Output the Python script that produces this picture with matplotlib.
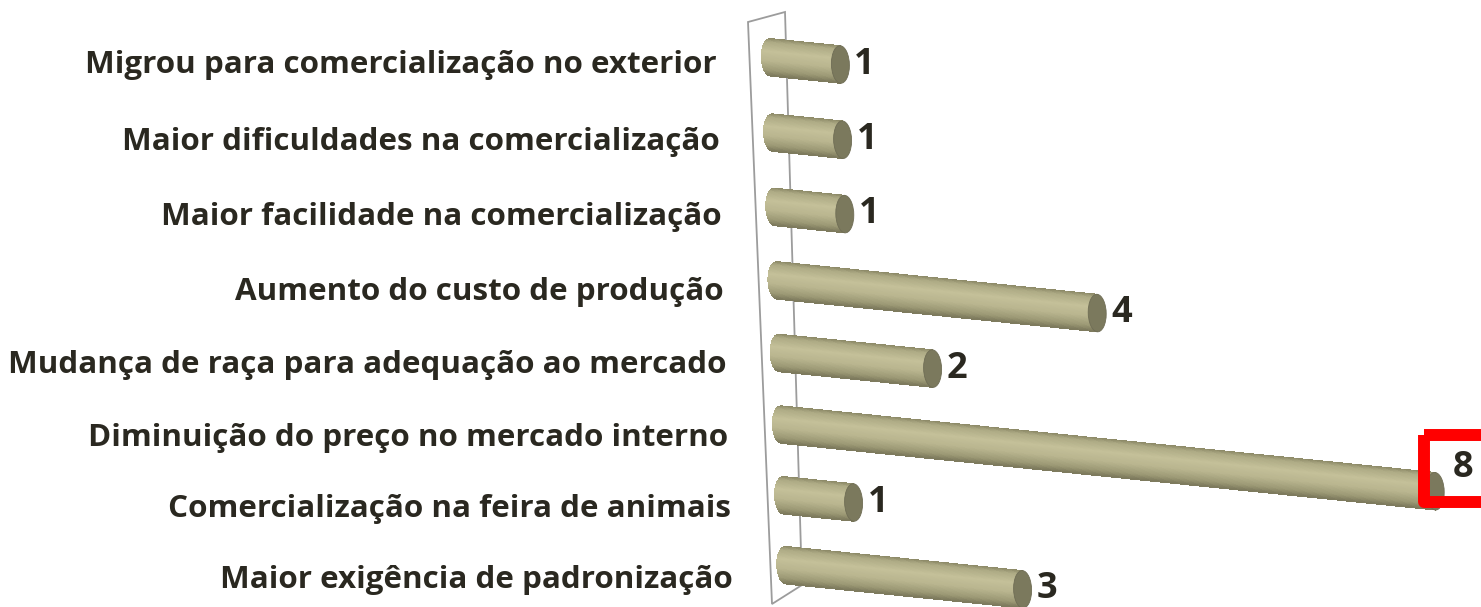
import numpy as np
import matplotlib
matplotlib.use("Agg")
import matplotlib.pyplot as plt
from matplotlib.patches import Polygon, Ellipse, Rectangle
from matplotlib.transforms import Affine2D
from matplotlib.colors import LinearSegmentedColormap

categories = [
    "Migrou para comercialização no exterior",
    "Maior dificuldades na comercialização",
    "Maior facilidade na comercialização",
    "Aumento do custo de produção",
    "Mudança de raça para adequação ao mercado",
    "Diminuição do preço no mercado interno",
    "Comercialização na feira de animais",
    "Maior exigência de padronização",
]
values = [1, 1, 1, 4, 2, 8, 1, 3]

W, H = 1481, 607
fig = plt.figure(figsize=(W / 100, H / 100), dpi=100)
ax = fig.add_axes([0, 0, 1, 1])
ax.set_xlim(0, W)
ax.set_ylim(H, 0)
ax.axis("off")

TEXT = "#2a2820"
FONT = ["Open Sans", "DejaVu Sans"]

UNIT = 83.4      # px per value unit
SLOPE = 8.5      # vertical drop per value unit (perspective)
ROWH = 72.7      # px per row-unit (thickness scale)
V0 = 0.16        # bars start at the back wall plane


def row_origin(i):
    # slightly foreshortened row spacing of the 3-D view
    return 757 + 2.2 * i, 56 + 75.7 * i - 0.45 * i ** 2


# back wall frame
wall = Polygon([(748, 22), (785, 12), (802, 585), (772, 604)], closed=True,
               fill=False, edgecolor="#9c9c9c", lw=1.3, zorder=1)
ax.add_patch(wall)

cmap = LinearSegmentedColormap.from_list(
    "cyl", [(0.0, "#8e8b69"), (0.1, "#aeab85"), (0.35, "#c4c099"),
            (0.6, "#b9b58f"), (0.85, "#9c9975"), (1.0, "#7a775a")])
capmap = LinearSegmentedColormap.from_list("cap", ["#858363", "#6f6d53"])

h = 0.258          # half thickness in row units
ew = 9 / UNIT      # end ellipse half width in value units
N = 48
ts = np.linspace(-1, 1, N + 1)

vmax = max(values)
for i, (cat, v) in enumerate(zip(categories, values)):
    x0, y0 = row_origin(i)
    tr_row = Affine2D.from_values(UNIT, SLOPE, 0, ROWH, x0, y0)
    tr = tr_row + ax.transData
    for k in range(N):
        t0, t1 = ts[k], ts[k + 1]
        l0 = V0 - ew * np.sqrt(max(0.0, 1 - t0 ** 2))
        l1 = V0 - ew * np.sqrt(max(0.0, 1 - t1 ** 2))
        poly = Polygon([(l0, h * t0), (v, h * t0), (v, h * t1), (l1, h * t1)],
                       closed=True, facecolor=cmap((t0 + 1) / 2), edgecolor="none",
                       lw=0, transform=tr, zorder=3, antialiased=False)
        ax.add_patch(poly)
    cap = Ellipse((v, 0), width=2 * ew, height=2 * h, transform=tr,
                  facecolor="#7b795d", edgecolor="#6f6d55", lw=0.6, zorder=4)
    ax.add_patch(cap)

    # category label
    ax.text(717 + 2.3 * i, y0 + 17.5 + i, cat, ha="right", va="baseline",
            fontsize=22.6, fontweight="bold", family=FONT, color=TEXT, zorder=5)

    # value label
    ex, ey = tr_row.transform((v, 0))
    if v == vmax:
        lx, ly = ex + 18, ey - 14
        ax.add_patch(Rectangle((ex - 11, ey - 56), 60, 67, fill=False,
                               edgecolor="#ff0000", lw=8.6, zorder=5,
                               joinstyle="round"))
    else:
        lx, ly = ex + 14, ey + 9
    ax.text(lx, ly, str(v), ha="left", va="baseline", fontsize=26,
            fontweight="bold", family=FONT, color=TEXT, zorder=6)

fig.savefig("out.png", dpi=100)
